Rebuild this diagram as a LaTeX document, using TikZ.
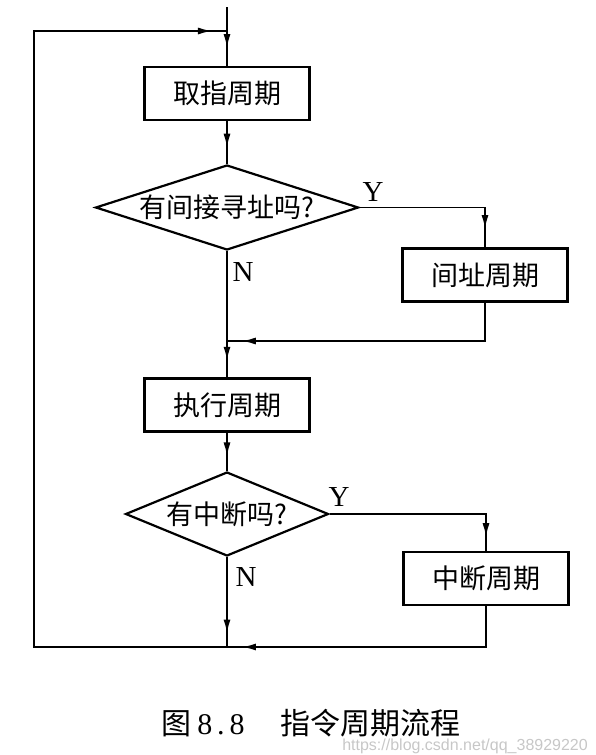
\documentclass[tikz,border=0pt]{standalone}
\usepackage{fontspec}
\setmainfont{Liberation Serif}
\newfontfamily\cjk{Noto Sans CJK SC}
\newfontfamily\wmfont{Liberation Sans}
\usetikzlibrary{shapes.geometric}
\usetikzlibrary{arrows.meta}
\usetikzlibrary{decorations.markings}
\tikzset{
    mybox/.style = {rectangle, line width=2.6pt, draw=black, align=center, minimum width=165pt, minimum height=53pt, font=\cjk\fontsize{27}{30}\selectfont, text=black},
    mydiamond/.style = {diamond, line width=2.2pt, draw=black, inner sep=0pt, align=center, font=\cjk\fontsize{27}{30}\selectfont, text=black},
    mylabel/.style = {inner sep=0pt, font=\fontsize{29}{32}\selectfont, text=black},
    edgen/.style = {-, line width=1.8pt, black},
    edgea/.style = {-, line width=1.8pt, black, postaction={decorate},
        decoration={markings, mark=at position #1 with {\arrow{Latex[length=14pt,width=7pt]}}}}, % arrow inside the line
}

\begin{document}
\begin{tikzpicture}[x=1pt, y=-1pt]
\useasboundingbox (0,0) rectangle (596,755);
\node[mybox] at (227, 93.5) (fetch) {取指周期};
\node[mydiamond, aspect=3.1, minimum width=263pt, minimum height=85pt] at (227, 207.5) (indq) {有间接寻址吗?};
\node[mybox] at (485, 275) (indc) {间址周期};
\node[mybox] at (227, 405) (exec) {执行周期};
\node[mydiamond, aspect=2.4, minimum width=203pt, minimum height=84pt] at (227, 514) (intq) {有中断吗?};
\node[mybox] at (486, 578.5) (intc) {中断周期};
%
\node[mylabel] at (373, 192) (y1) {Y};
\node[mylabel] at (243, 272) (n1) {N};
\node[mylabel] at (339, 497) (y2) {Y};
\node[mylabel] at (246, 577) (n2) {N};
%
\coordinate (top) at (227, 7);
\coordinate (j1) at (227, 31);
\coordinate (j2) at (227, 341);
\coordinate (j3) at (227, 647);
\coordinate (ctl) at (34, 31);
\coordinate (cbl) at (34, 647);
%
\draw[edgea=0.7] (top) -- (fetch);
\draw[edgea=0.62] (fetch) -- (indq);
\draw[edgea=0.89] (indq.east) -| (indc.north);
\draw[edgea=0.95] (indc.south) |- (j2);
\draw[edgea=0.87] (indq.south) -- (exec);
\draw[edgea=0.62] (exec) -- (intq);
\draw[edgea=0.93] (intq.east) -| (intc.north);
\draw[edgea=0.95] (intc.south) |- (j3);
\draw[edgea=0.85] (intq.south) -- (j3);
\draw[edgea=0.985] (j3) -- (cbl) -- (ctl) -- (j1);
%
\node[inner sep=0pt, font=\fontsize{30}{32}\selectfont] at (311, 723) (cap) {{\cjk 图}\hspace{6pt}8\,.\,8\hspace{36pt}{\cjk 指令周期流程}};
\node[anchor=east, inner sep=0pt, font=\wmfont\fontsize{16}{18}\selectfont, text=black!22] at (588, 746) (wm) {https://blog.csdn.net/qq\_38929220};
\end{tikzpicture}
\end{document}
